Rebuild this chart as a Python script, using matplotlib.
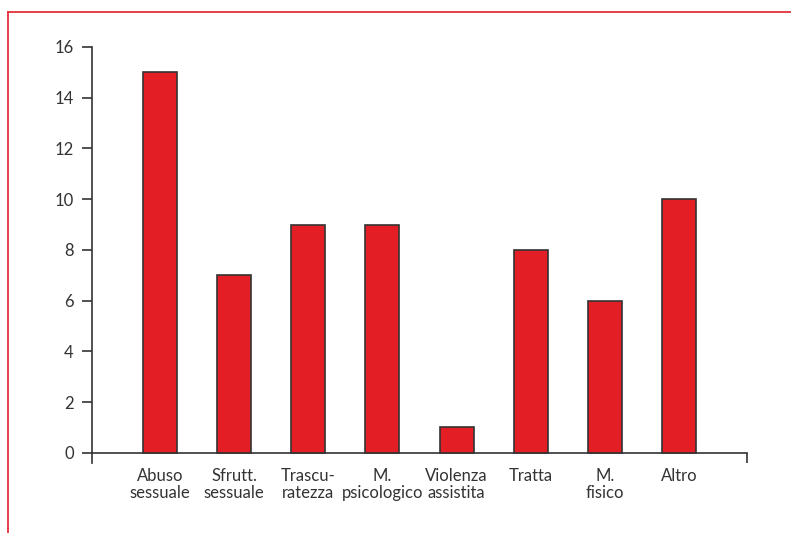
import numpy as np
import matplotlib.pyplot as plt
from matplotlib.lines import Line2D

# Data
categories = ['Abuso\nsessuale', 'Sfrutt.\nsessuale', 'Trascu-\nratezza', 'M.\npsicologico',
              'Violenza\nassistita', 'Tratta', 'M.\nfisico', 'Altro']
values = [15, 7, 9, 9, 1, 8, 6, 10]
yTicks = [0, 2, 4, 6, 8, 10, 12, 14, 16]

barColor = '#e31e24'
textColor = '#333333'

plt.rcParams['font.family'] = ['Lato', 'DejaVu Sans']

fig = plt.figure(figsize=(7.91, 5.33), dpi=100)
ax = fig.add_axes([92/791, (533-463)/533, (747-92)/791, (463-47)/533])

x = np.arange(len(values))
ax.bar(x, values, width=0.46, color=barColor, edgecolor='#333333', linewidth=1.2, zorder=3)

# Axis limits and spines
ax.set_xlim(-0.917, len(values) - 1 + 0.917)
ax.set_ylim(-0.4, 16)
ax.spines['top'].set_visible(False)
ax.spines['right'].set_visible(False)
ax.spines['bottom'].set_position(('data', 0))
for s in ['left', 'bottom']:
    ax.spines[s].set_color('#333333')
    ax.spines[s].set_linewidth(1.2)

# Y ticks
ax.set_yticks(yTicks)
ax.tick_params(axis='y', direction='out', length=7.2, width=1.2, color='#333333',
               pad=6, labelsize=12, labelcolor=textColor)

# X labels without tick marks, end ticks as minor ticks
ax.set_xticks(x)
ax.set_xticklabels(categories, linespacing=1.1)
ax.tick_params(axis='x', which='major', length=0, pad=11, labelsize=12, labelcolor=textColor)
ax.set_xticks([len(values) - 1 + 0.917], minor=True)
ax.tick_params(axis='x', which='minor', direction='out', length=7.2, width=1.2, color='#333333')

# Red frame lines at top and left of the figure
fig.add_artist(Line2D([8/791, 1], [1 - 11.5/533, 1 - 11.5/533], color='#e0303a', linewidth=1.3,
                      transform=fig.transFigure))
fig.add_artist(Line2D([8/791, 8/791], [1 - 11.5/533, 0], color='#e0303a', linewidth=1.3,
                      transform=fig.transFigure))

fig.savefig('out.png', dpi=100)
